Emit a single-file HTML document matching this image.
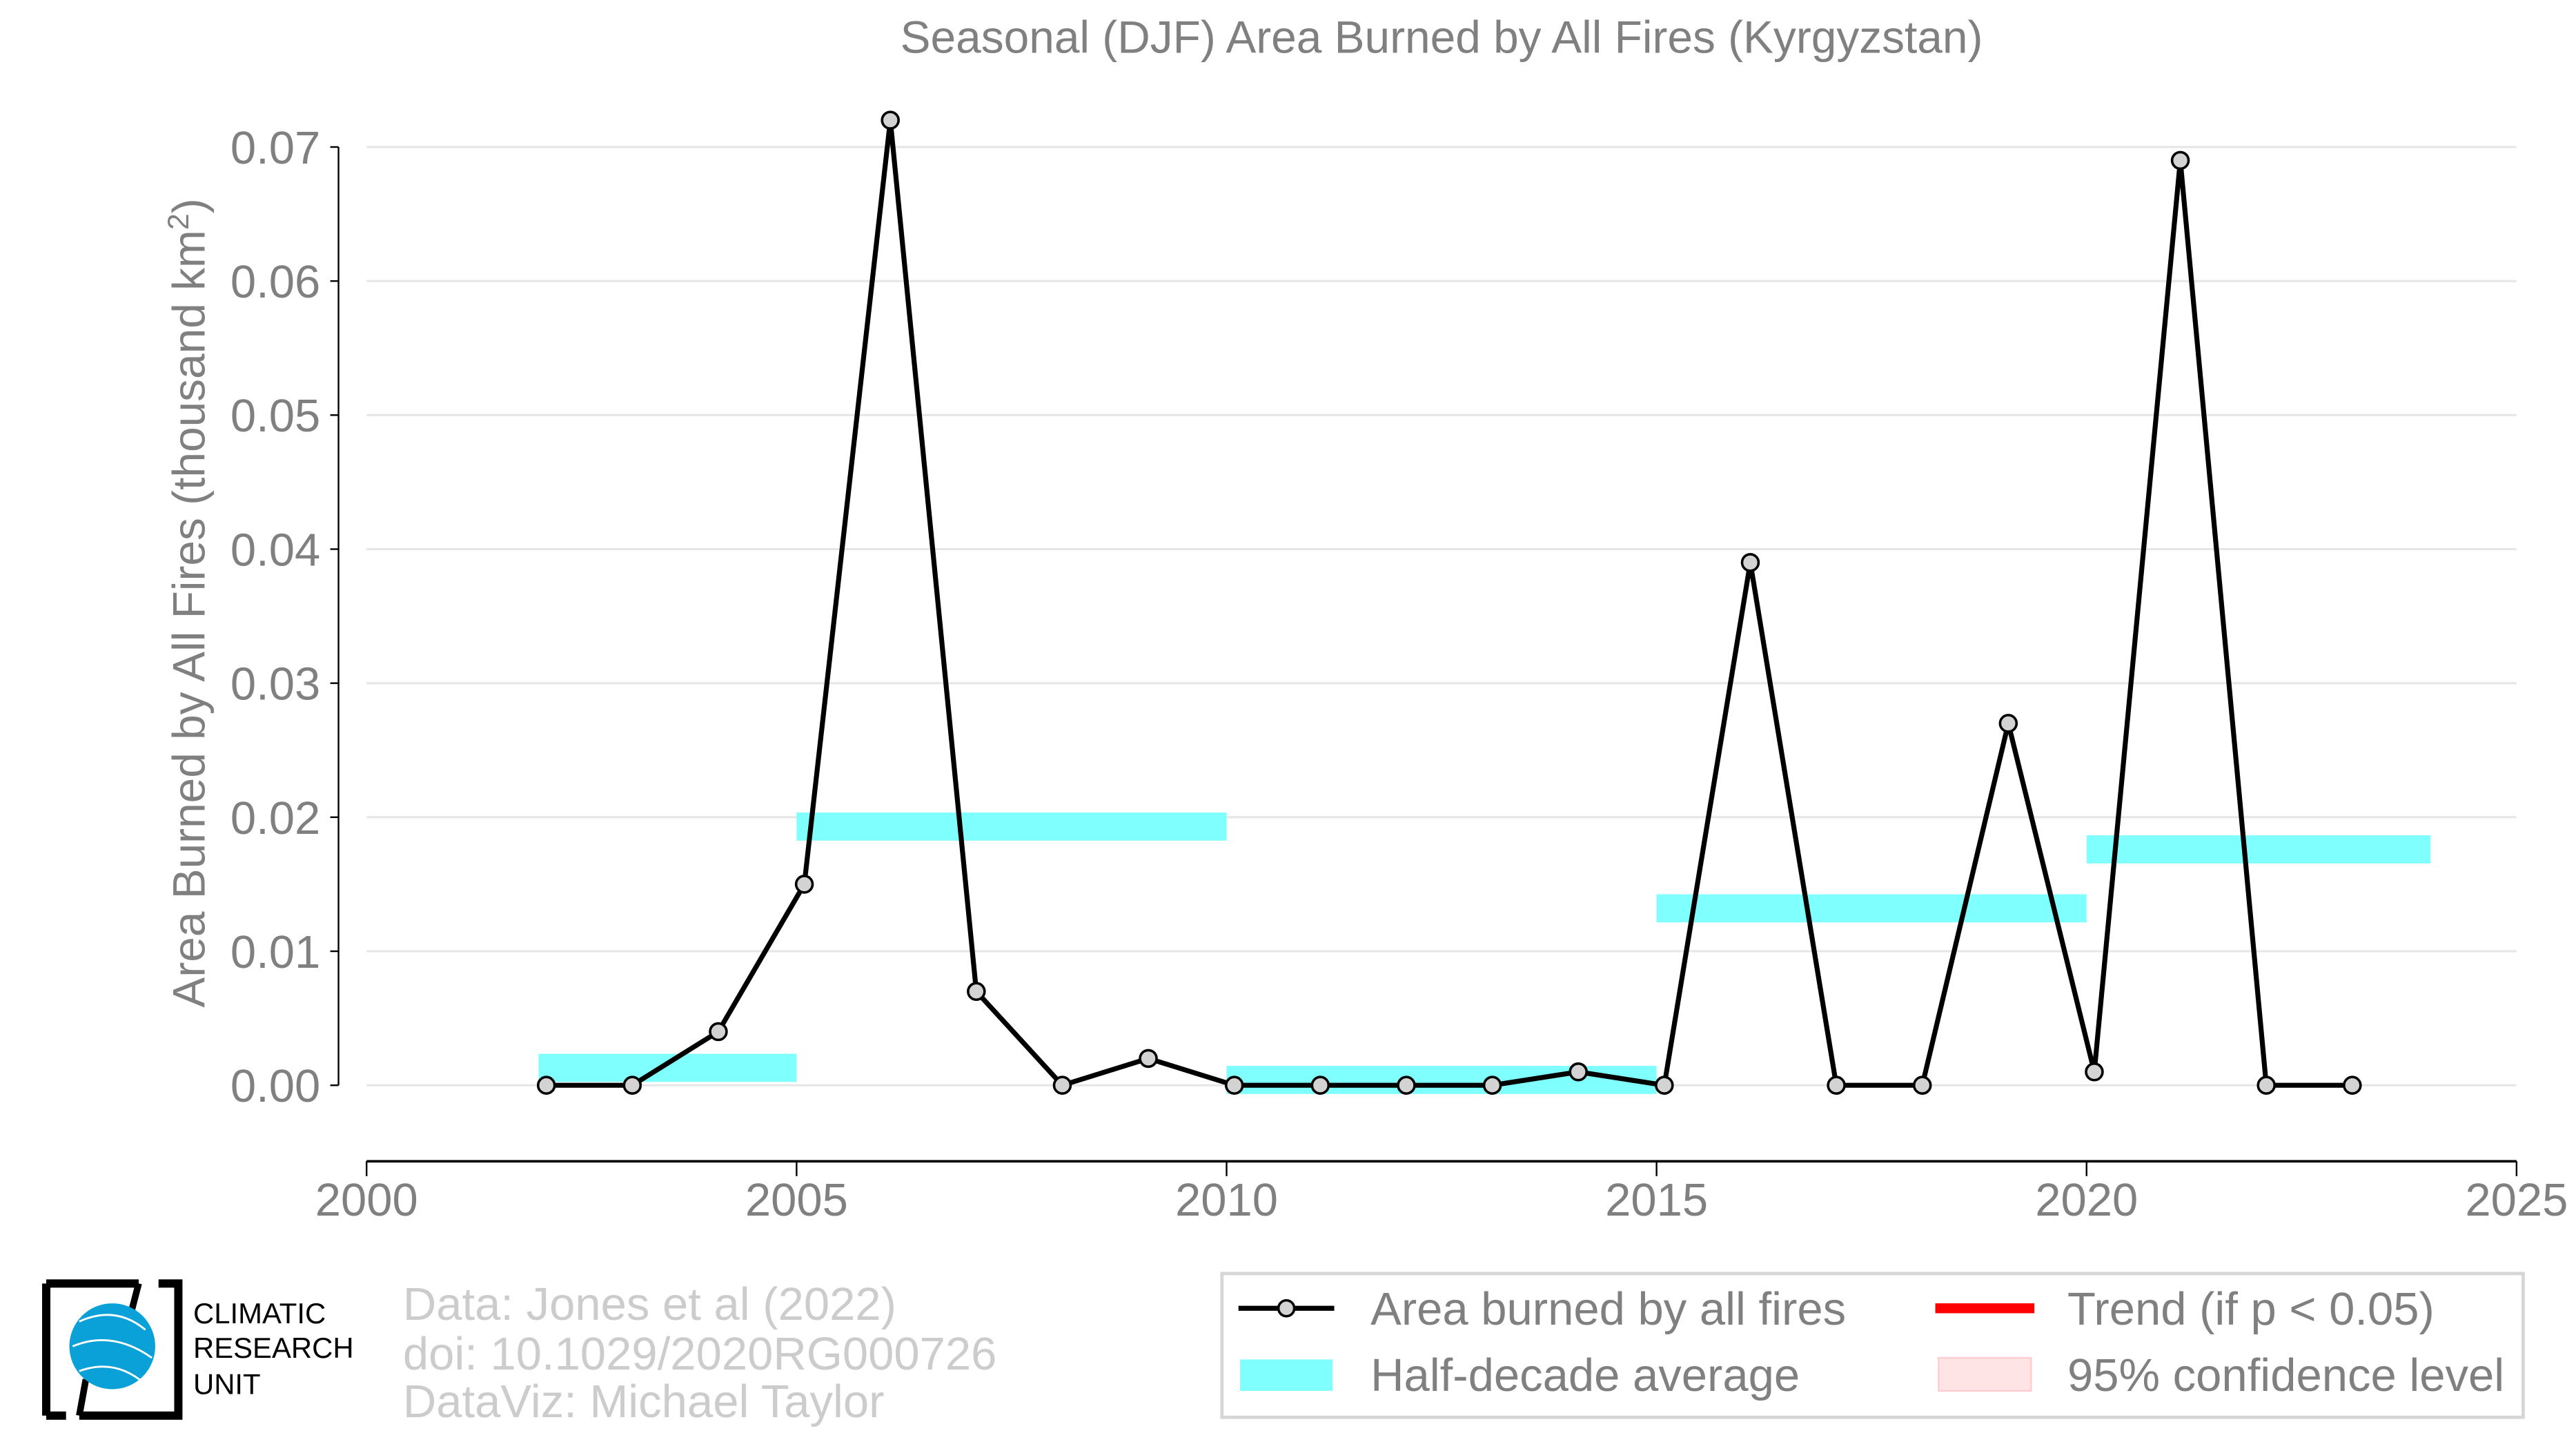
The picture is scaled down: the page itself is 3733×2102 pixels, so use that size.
<!DOCTYPE html>
<html><head><meta charset="utf-8"><style>
html,body{margin:0;padding:0;background:#fff;}
svg{display:block;font-family:"Liberation Sans",Arial,sans-serif;}
</style></head><body>
<svg id="chart" width="3733" height="2102" viewBox="0 0 1560 878.4" preserveAspectRatio="none" xmlns="http://www.w3.org/2000/svg">
<text x="873" y="32" text-anchor="middle" font-size="27.5" fill="#808080">Seasonal (DJF) Area Burned by All Fires (Kyrgyzstan)</text>
<g id="grid"></g>
<g id="yaxis"></g>
<g id="xaxis"></g>
<text transform="translate(124,365) rotate(-90)" text-anchor="middle" font-size="27.5" fill="#808080">Area Burned by All Fires (thousand km<tspan dy="-10" font-size="18">2</tspan><tspan dy="10">)</tspan></text>
<g id="bars"></g>
<g id="series"></g>

<g>
<path d="M28,777 H84 M28,777 V857 M28,857 H40" stroke="#000" stroke-width="5" fill="none"/>
<path d="M48,857 H108 V777 H96" stroke="#000" stroke-width="5" fill="none"/>
<path d="M84,777 L78,800 M48,857 L52,835" stroke="#000" stroke-width="4"/>
<circle cx="68" cy="815" r="26" fill="#0aa0d8"/>
<path d="M48,800 Q70,790 88,805 M44,815 Q68,805 92,822 M48,830 Q70,822 88,838" stroke="#fff" stroke-width="1.2" fill="none"/>
<text x="117" y="801" font-size="17.5" fill="#000">CLIMATIC</text>
<text x="117" y="822" font-size="17.5" fill="#000">RESEARCH</text>
<text x="117" y="844" font-size="17.5" fill="#000">UNIT</text>
</g>
<g font-size="28" fill="#cccccc">
<text x="244" y="799">Data: Jones et al (2022)</text>
<text x="244" y="829">doi: 10.1029/2020RG000726</text>
<text x="244" y="858">DataViz: Michael Taylor</text>
</g>
<g>
<rect x="740" y="771" width="788" height="87" fill="#fff" stroke="#d6d6d6" stroke-width="2"/>
<g>
<line x1="750" y1="792" x2="808" y2="792" stroke="#000" stroke-width="3"/>
<circle cx="779" cy="792" r="4.8" fill="#d3d3d3" stroke="#000" stroke-width="1.5"/>
<text x="830" y="802" font-size="28" fill="#808080">Area burned by all fires</text>
</g>
<g>
<rect x="1172" y="789" width="60" height="6" fill="#ff0000"/>
<text x="1252" y="802" font-size="28" fill="#808080">Trend (if p &lt; 0.05)</text>
</g>
<g>
<rect x="751" y="823" width="56" height="19" fill="#80ffff"/>
<text x="830" y="842" font-size="28" fill="#808080">Half-decade average</text>
</g>
<g>
<rect x="1174" y="822" width="56" height="20" fill="#ffe4e6" stroke="#ffcccf" stroke-width="1"/>
<text x="1252" y="842" font-size="28" fill="#808080">95% confidence level</text>
</g>
</g>
</svg>
<script>
const years = [2002,2003,2004,2005,2006,2007,2008,2009,2010,2011,2012,2013,2014,2015,2016,2017,2018,2019,2020,2021,2022,2023];
const values = [0,0,0.004,0.015,0.072,0.007,0,0.002,0,0,0,0,0.001,0,0.039,0,0,0.027,0.001,0.069,0,0];
const halfStarts = [2002,2005,2010,2015,2020];
const halfEnds = [2005,2010,2015,2020,2024];
const halfValues = [0.0013,0.0193,0.0004,0.0132,0.0176];
const yTicks = [0,0.01,0.02,0.03,0.04,0.05,0.06,0.07];
const yTickLabels = ["0.00","0.01","0.02","0.03","0.04","0.05","0.06","0.07"];
const xTicks = [2000,2005,2010,2015,2020,2025];

const NS="http://www.w3.org/2000/svg";
function X(yr){return 222+(yr-2000)*(1524-222)/25;}
function Y(v){return 657-v*(657-89)/0.07;}
function mk(tag,attrs,parent){const e=document.createElementNS(NS,tag);for(const k in attrs)e.setAttribute(k,attrs[k]);parent.appendChild(e);return e;}
const grid=document.getElementById('grid'),ya=document.getElementById('yaxis'),xa=document.getElementById('xaxis'),bars=document.getElementById('bars'),ser=document.getElementById('series');

yTicks.forEach((t,i)=>{
  const g=mk('line',{x1:222,x2:1524,y1:Y(t),y2:Y(t),stroke:'#e6e6e6','stroke-width':1.3},grid);
  
  
  mk('line',{x1:200,x2:205,y1:Y(t),y2:Y(t),stroke:'#000','stroke-width':1},ya);
  const tx=mk('text',{x:194,y:Y(t)+10,'text-anchor':'end','font-size':28,fill:'#808080'},ya);
  tx.textContent=yTickLabels[i];
  
  
});
mk('line',{x1:205,x2:205,y1:Y(0.07),y2:Y(0),stroke:'#000','stroke-width':1},ya);
mk('line',{x1:222,x2:1524,y1:703,y2:703,stroke:'#000','stroke-width':1.5},xa);
xTicks.forEach(t=>{
  const tk=mk('line',{x1:X(t),x2:X(t),y1:703,y2:712,stroke:'#000','stroke-width':1},xa);
  const tx=mk('text',{x:X(t),y:736,'text-anchor':'middle','font-size':28,fill:'#808080'},xa);
  tx.textContent=t;
  
  
});
halfValues.forEach((v,i)=>{
  const r=mk('rect',{x:X(halfStarts[i]),y:Y(v)-8.5,width:X(halfEnds[i])-X(halfStarts[i]),height:17,fill:'#80ffff'},bars);
  
  
});
const off=0.09;
const pts=years.map((y,i)=>X(y+off)+','+Y(values[i])).join(' ');
const pl=mk('polyline',{points:pts,fill:'none',stroke:'#000','stroke-width':3,'stroke-linejoin':'miter'},ser);


years.forEach((y,i)=>{
  const c=mk('circle',{cx:X(y+off),cy:Y(values[i]),r:5,fill:'#d3d3d3',stroke:'#000','stroke-width':1.5},ser);
  
  
});
</script>
</body></html>
